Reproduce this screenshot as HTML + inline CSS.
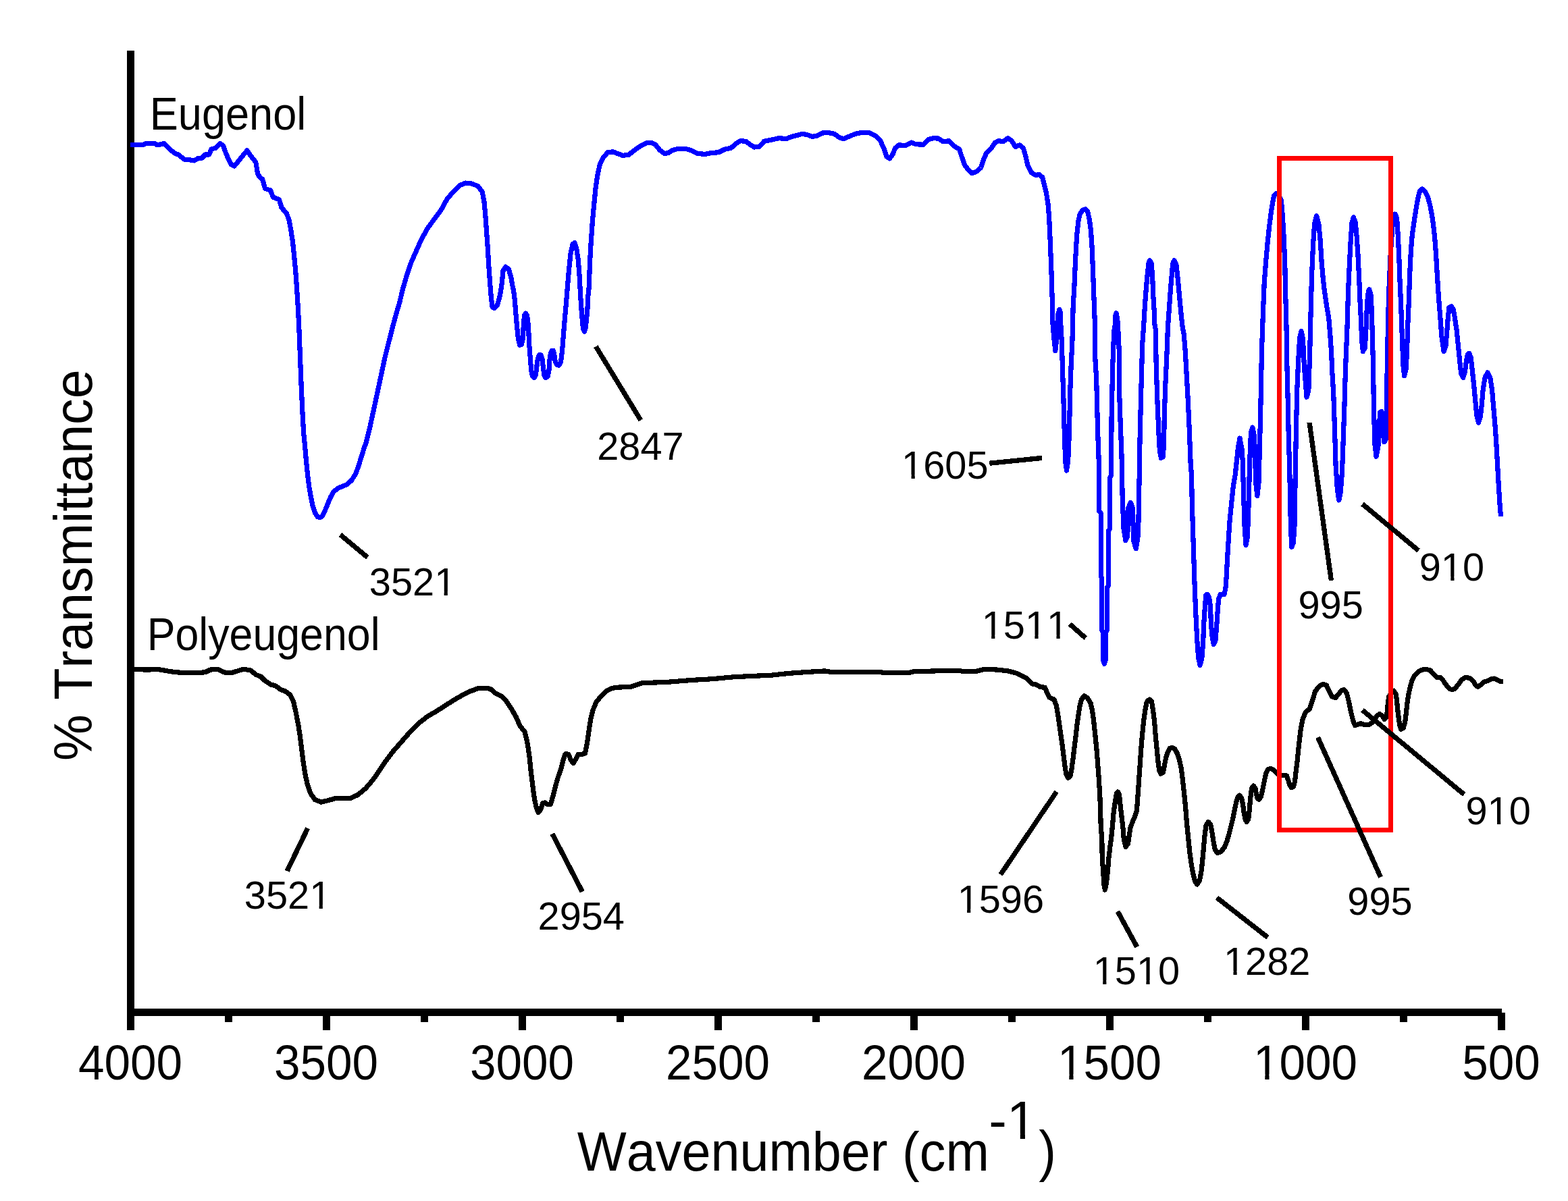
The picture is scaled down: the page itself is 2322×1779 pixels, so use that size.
<!DOCTYPE html>
<html lang="en">
<head>
<meta charset="utf-8">
<title>FTIR spectra of Eugenol and Polyeugenol</title>
<style>
html,body{margin:0;padding:0;background:#fff;}
body{width:2322px;height:1779px;overflow:hidden;}
svg{display:block;}
text{font-family:"Liberation Sans",Arial,Helvetica,sans-serif;fill:#000;font-kerning:none;font-variant-ligatures:none;}
</style>
</head>
<body>
<svg width="2322" height="1779" viewBox="0 0 2322 1779">
<defs><clipPath id="k0" clipPathUnits="userSpaceOnUse"><path clip-rule="evenodd" d="M-146.3,-83.1H146.3V34.6H-146.3ZM-73.59,-6.93H-59.70V1.39H-73.59ZM-53.47,-6.93H-40.34V1.39H-53.47Z"/></clipPath><clipPath id="k1" clipPathUnits="userSpaceOnUse"><path clip-rule="evenodd" d="M-146.3,-83.1H146.3V34.6H-146.3ZM-73.59,-6.93H-59.70V1.39H-73.59ZM-53.47,-6.93H-40.34V1.39H-53.47Z"/></clipPath><clipPath id="k2" clipPathUnits="userSpaceOnUse"><path clip-rule="evenodd" d="M-57.7,-69.3H186.1V28.9H-57.7ZM99.19,-5.77H110.77V1.15H99.19ZM115.96,-5.77H126.90V1.15H115.96Z"/></clipPath><clipPath id="k3" clipPathUnits="userSpaceOnUse"><path clip-rule="evenodd" d="M-57.7,-69.3H186.1V28.9H-57.7ZM2.89,-5.77H14.46V1.15H2.89ZM19.65,-5.77H30.59V1.15H19.65Z"/></clipPath><clipPath id="k4" clipPathUnits="userSpaceOnUse"><path clip-rule="evenodd" d="M-57.7,-69.3H186.1V28.9H-57.7ZM2.89,-5.77H14.46V1.15H2.89ZM19.65,-5.77H30.59V1.15H19.65ZM67.09,-5.77H78.66V1.15H67.09ZM83.86,-5.77H94.80V1.15H83.86ZM99.19,-5.77H110.77V1.15H99.19ZM115.96,-5.77H126.90V1.15H115.96Z"/></clipPath><clipPath id="k5" clipPathUnits="userSpaceOnUse"><path clip-rule="evenodd" d="M-57.7,-69.3H154.0V28.9H-57.7ZM34.99,-5.77H46.56V1.15H34.99ZM51.76,-5.77H62.69V1.15H51.76Z"/></clipPath><clipPath id="k6" clipPathUnits="userSpaceOnUse"><path clip-rule="evenodd" d="M-57.7,-69.3H186.1V28.9H-57.7ZM99.19,-5.77H110.77V1.15H99.19ZM115.96,-5.77H126.90V1.15H115.96Z"/></clipPath><clipPath id="k7" clipPathUnits="userSpaceOnUse"><path clip-rule="evenodd" d="M-57.7,-69.3H186.1V28.9H-57.7ZM2.89,-5.77H14.46V1.15H2.89ZM19.65,-5.77H30.59V1.15H19.65Z"/></clipPath><clipPath id="k8" clipPathUnits="userSpaceOnUse"><path clip-rule="evenodd" d="M-57.7,-69.3H186.1V28.9H-57.7ZM2.89,-5.77H14.46V1.15H2.89ZM19.65,-5.77H30.59V1.15H19.65ZM67.09,-5.77H78.66V1.15H67.09ZM83.86,-5.77H94.80V1.15H83.86Z"/></clipPath><clipPath id="k9" clipPathUnits="userSpaceOnUse"><path clip-rule="evenodd" d="M-57.7,-69.3H186.1V28.9H-57.7ZM2.89,-5.77H14.46V1.15H2.89ZM19.65,-5.77H30.59V1.15H19.65Z"/></clipPath><clipPath id="k10" clipPathUnits="userSpaceOnUse"><path clip-rule="evenodd" d="M-57.7,-69.3H154.0V28.9H-57.7ZM34.99,-5.77H46.56V1.15H34.99ZM51.76,-5.77H62.69V1.15H51.76Z"/></clipPath><clipPath id="k11" clipPathUnits="userSpaceOnUse"><path clip-rule="evenodd" d="M-79.8,-95.8H150.8V39.9H-79.8ZM30.57,-7.98H46.58V1.60H30.57ZM53.76,-7.98H68.89V1.60H53.76Z"/></clipPath></defs>
<rect x="0" y="0" width="2322" height="1779" fill="#fff"/>
<g stroke="#000" stroke-width="11" fill="none" shape-rendering="crispEdges">
<line x1="193.5" y1="75" x2="193.5" y2="1505"/>
<line x1="188" y1="1499.5" x2="2223.5" y2="1499.5"/>
<line x1="193.5" y1="1499.5" x2="193.5" y2="1526" />
<line x1="338.5" y1="1499.5" x2="338.5" y2="1514" />
<line x1="483.5" y1="1499.5" x2="483.5" y2="1526" />
<line x1="628.5" y1="1499.5" x2="628.5" y2="1514" />
<line x1="773.5" y1="1499.5" x2="773.5" y2="1526" />
<line x1="918.5" y1="1499.5" x2="918.5" y2="1514" />
<line x1="1063.5" y1="1499.5" x2="1063.5" y2="1526" />
<line x1="1208.5" y1="1499.5" x2="1208.5" y2="1514" />
<line x1="1353.5" y1="1499.5" x2="1353.5" y2="1526" />
<line x1="1498.5" y1="1499.5" x2="1498.5" y2="1514" />
<line x1="1643.5" y1="1499.5" x2="1643.5" y2="1526" />
<line x1="1788.5" y1="1499.5" x2="1788.5" y2="1514" />
<line x1="1933.5" y1="1499.5" x2="1933.5" y2="1526" />
<line x1="2078.5" y1="1499.5" x2="2078.5" y2="1514" />
<line x1="2223.5" y1="1499.5" x2="2223.5" y2="1526" />
</g>
<g fill="none" stroke-linejoin="round" stroke-linecap="butt" shape-rendering="crispEdges">
<polyline stroke="#0000ff" stroke-width="7.2" points="193.1,214.7 212.8,214.1 216.5,212.5 229.2,212.5 232.0,214.3 236.5,214.1 243.0,212.5 251.0,220.5 258.4,227.0 264.0,229.0 273.0,236.2 282.0,237.0 287.6,238.0 293.0,234.7 298.6,234.4 304.0,229.0 309.5,229.0 313.0,221.0 319.5,219.2 326.0,212.5 330.5,215.6 335.0,228.3 342.3,243.8 347.0,246.0 353.3,238.4 360.6,229.2 366.0,222.9 371.5,231.0 378.8,240.2 381.5,256.6 384.3,262.0 388.8,265.7 392.5,279.4 400.7,282.0 404.3,292.0 413.5,295.8 417.0,307.7 424.4,315.9 428.0,326.0 430.8,340.5 433.5,358.7 435.4,377.0 437.5,398.9 439.4,424.4 441.2,453.6 442.6,480.0 444.3,524.0 446.0,567.7 447.8,607.8 449.6,640.6 451.5,660.0 453.4,681.9 455.6,703.8 457.8,721.3 460.5,736.6 463.2,749.7 466.5,759.6 470.3,765.6 473.6,766.7 477.5,764.5 481.3,756.3 485.7,745.4 490.0,735.5 494.4,727.9 501.0,722.9 507.6,720.2 514.1,717.5 520.7,711.4 526.2,702.7 530.5,691.7 534.9,677.5 539.3,663.3 542.3,655.2 547.7,633.3 553.2,607.8 558.7,582.3 564.2,556.7 569.6,531.2 575.1,509.3 580.6,487.4 586.0,467.4 591.5,449.0 596.5,428.0 602.9,406.1 609.2,387.9 616.5,371.5 623.8,355.0 633.0,338.6 642.1,325.9 653.0,311.3 662.1,294.8 671.3,283.9 680.4,274.8 689.5,271.1 698.6,272.0 707.7,275.7 714.1,283.9 716.9,298.5 718.7,316.7 720.5,342.3 722.3,367.8 723.8,393.3 725.6,418.9 727.4,440.8 729.1,454.7 731.9,456.5 736.4,451.9 739.6,441.0 741.9,429.1 743.3,418.9 745.1,400.6 748.8,395.2 753.3,398.8 757.0,411.6 758.3,420.0 760.6,430.9 762.4,445.5 763.8,463.8 765.6,483.8 767.4,502.1 769.7,511.2 772.4,510.3 774.3,502.1 775.2,483.8 776.5,467.4 778.4,464.2 780.6,467.4 782.0,479.3 782.9,493.0 783.8,511.2 785.2,529.4 786.6,547.7 788.4,556.8 791.1,559.5 793.4,555.0 794.8,543.1 796.2,532.2 798.4,525.8 801.2,525.8 803.0,532.2 804.4,544.0 805.7,555.0 808.0,559.5 811.2,557.7 813.0,547.7 813.9,534.0 815.3,524.0 817.1,519.4 819.4,519.4 820.8,524.9 822.1,534.9 824.4,540.4 827.6,541.3 830.4,536.7 831.7,527.6 833.1,513.0 834.5,494.8 836.3,472.9 838.6,447.4 840.4,424.6 842.5,400.0 845.0,376.0 848.2,361.4 850.9,359.6 853.7,367.8 856.4,386.0 858.2,409.8 859.5,435.5 860.9,456.5 862.3,474.7 863.6,487.5 865.5,491.1 867.3,485.7 868.7,471.1 870.0,456.5 870.9,438.2 872.3,424.6 873.4,391.5 875.2,358.7 877.4,327.7 879.6,304.0 881.9,280.3 884.7,260.2 888.3,243.8 893.8,232.8 900.0,225.7 907.4,224.8 914.7,227.5 922.0,230.3 931.0,229.3 940.2,222.0 949.3,215.7 956.6,212.0 963.9,211.1 971.2,214.8 976.7,222.0 984.0,227.5 989.4,226.6 994.9,223.0 1002.2,220.8 1016.8,220.8 1024.1,223.0 1033.2,227.5 1044.2,228.4 1053.3,226.6 1064.2,225.7 1073.3,221.1 1082.5,219.3 1089.8,212.9 1096.1,208.7 1104.4,209.3 1111.6,214.8 1117.1,218.0 1124.4,217.5 1131.7,209.3 1140.8,207.5 1153.6,204.7 1164.5,205.6 1171.8,202.5 1181.0,200.2 1188.3,198.3 1195.5,199.6 1202.8,202.5 1210.1,201.1 1217.4,197.1 1226.6,196.5 1235.7,198.3 1243.0,203.8 1249.4,205.6 1257.6,202.0 1266.7,198.3 1275.8,196.5 1287.4,196.5 1296.5,201.1 1303.8,208.4 1309.3,221.1 1313.0,232.1 1317.5,234.8 1322.1,228.4 1325.7,219.3 1331.2,214.8 1340.3,215.7 1349.4,211.1 1356.7,213.8 1367.7,214.2 1375.0,206.5 1382.3,204.7 1389.6,205.1 1396.9,209.8 1405.1,208.7 1413.3,216.6 1420.6,221.1 1424.2,232.1 1428.8,244.8 1434.3,252.1 1439.7,256.7 1446.1,254.0 1452.5,248.5 1456.1,237.6 1460.7,226.6 1468.0,219.3 1473.5,211.1 1479.0,208.7 1485.3,209.8 1492.6,204.7 1498.1,208.4 1503.6,217.5 1510.0,214.8 1515.4,219.3 1519.1,232.1 1521.8,244.8 1527.3,255.8 1533.7,259.4 1539.1,258.5 1543.7,262.7 1546.4,273.7 1549.2,284.6 1551.9,301.0 1553.5,320.2 1554.6,342.1 1555.7,369.4 1556.8,396.8 1557.6,424.2 1558.5,451.5 1559.0,480.0 1560.8,500.5 1562.8,519.7 1564.9,500.5 1565.8,485.0 1566.9,465.2 1569.0,458.4 1570.8,465.2 1570.8,480.0 1572.4,507.4 1573.5,548.4 1574.9,589.4 1575.8,623.6 1576.8,657.8 1577.9,685.2 1579.5,697.0 1581.7,682.4 1583.4,641.4 1584.7,581.2 1586.4,534.7 1587.7,511.5 1588.5,485.0 1589.1,455.6 1590.9,424.2 1592.7,383.1 1594.6,348.9 1596.8,328.4 1599.1,317.5 1603.2,311.3 1607.3,309.9 1610.7,313.4 1613.4,325.7 1615.5,342.1 1617.3,369.4 1618.6,403.6 1619.6,431.0 1620.6,458.4 1621.4,480.0 1621.9,532.0 1623.7,562.1 1624.7,603.1 1625.8,644.1 1626.8,671.5 1627.5,690.0 1627.7,757.0 1630.1,760.0 1630.1,853.0 1631.5,856.0 1631.5,933.0 1633.5,937.0 1633.5,977.0 1635.4,983.5 1637.5,977.0 1637.5,937.0 1639.6,933.0 1639.6,870.0 1641.6,867.0 1641.6,786.0 1643.8,783.0 1643.8,707.0 1645.7,704.0 1645.7,690.0 1646.0,622.3 1647.6,545.7 1649.7,490.9 1651.5,480.0 1651.8,467.9 1653.1,463.8 1654.8,473.4 1655.6,485.0 1657.2,518.3 1657.9,589.4 1659.3,630.5 1661.0,674.2 1661.6,705.0 1662.2,738.8 1664.1,783.8 1666.9,800.6 1669.7,795.0 1671.0,751.9 1674.4,744.4 1677.0,751.9 1679.1,802.5 1682.3,812.8 1685.6,791.3 1686.6,735.0 1687.5,690.0 1688.0,652.3 1690.0,571.6 1691.7,510.1 1693.5,485.0 1695.5,451.5 1697.6,424.2 1699.6,402.3 1701.0,390.0 1702.6,385.9 1705.1,390.0 1706.7,410.5 1707.8,437.8 1709.5,465.2 1709.9,480.0 1711.3,488.2 1712.2,541.6 1714.0,596.3 1715.8,638.7 1717.4,668.8 1719.5,678.4 1722.2,677.0 1723.6,657.8 1724.2,616.8 1725.9,568.9 1728.1,521.0 1729.4,485.0 1731.8,451.5 1733.8,424.2 1735.9,399.5 1737.2,388.6 1739.0,385.9 1741.8,391.3 1743.7,407.7 1745.5,426.9 1747.5,448.8 1749.6,470.7 1751.3,485.0 1753.2,495.0 1755.4,522.4 1757.1,553.9 1759.1,589.4 1761.2,634.6 1763.2,688.0 1764.6,705.0 1765.3,746.3 1767.2,806.3 1769.1,866.3 1770.9,911.3 1772.8,948.8 1774.7,975.0 1777.1,985.3 1779.8,975.0 1781.6,952.5 1782.8,922.5 1784.6,896.3 1785.9,881.3 1787.8,880.3 1790.6,885.0 1792.5,898.1 1793.4,924.4 1795.3,945.0 1797.2,954.4 1800.0,948.8 1801.9,924.4 1803.4,901.9 1804.7,886.9 1807.5,880.3 1813.1,880.3 1815.4,868.1 1816.9,840.0 1818.8,806.3 1821.0,772.5 1823.4,748.1 1826.3,720.0 1829.1,704.0 1831.5,681.9 1833.4,663.1 1836.0,649.1 1839.0,665.0 1840.3,683.8 1841.6,732.5 1843.1,779.4 1845.0,807.5 1847.3,796.3 1849.1,747.5 1850.6,685.6 1852.5,640.6 1854.8,633.1 1857.2,644.4 1858.5,668.8 1859.6,713.8 1861.9,734.4 1864.1,713.8 1865.6,653.8 1866.6,616.3 1867.5,571.3 1868.4,522.5 1870.3,466.3 1872.2,419.4 1874.6,387.5 1877.3,357.5 1879.7,335.0 1882.1,316.3 1884.4,301.3 1886.6,290.0 1889.5,286.8 1893.0,288.0 1897.5,297.5 1899.4,321.9 1901.3,353.8 1902.8,391.3 1903.5,428.8 1904.6,466.3 1905.4,503.8 1905.9,541.3 1907.3,597.5 1908.4,653.8 1909.7,691.3 1910.6,743.8 1911.6,785.0 1912.9,810.3 1915.3,803.8 1917.2,775.6 1918.1,710.0 1919.6,627.5 1920.9,575.0 1922.8,531.9 1924.7,500.0 1927.1,490.6 1929.4,501.9 1931.3,541.3 1933.1,563.8 1935.0,588.1 1937.8,578.8 1939.7,522.5 1941.0,466.3 1942.5,410.0 1944.4,365.0 1946.6,331.3 1949.6,319.6 1952.8,331.3 1955.3,357.5 1957.1,387.5 1959.4,413.8 1961.6,432.5 1964.6,453.1 1967.8,471.9 1969.7,494.4 1971.6,522.5 1972.9,552.5 1974.8,584.4 1976.6,638.8 1978.1,689.4 1980.4,725.0 1982.8,741.0 1985.3,728.8 1987.5,698.8 1989.0,657.5 1990.9,603.1 1991.6,575.0 1993.1,531.9 1995.0,485.0 1996.5,432.5 1998.4,391.3 2000.3,353.8 2002.1,329.4 2004.4,321.9 2007.2,329.4 2009.1,350.0 2010.9,376.3 2012.8,415.6 2014.1,447.5 2015.6,475.6 2016.6,503.8 2018.4,520.6 2021.3,515.0 2023.1,485.0 2024.6,447.5 2026.5,430.6 2027.8,428.8 2030.3,438.1 2031.6,470.0 2032.5,503.8 2033.4,535.6 2034.4,603.1 2035.9,657.5 2038.1,676.3 2040.9,661.3 2042.3,631.3 2043.8,610.6 2046.0,609.7 2047.5,635.0 2049.8,654.7 2052.8,650.0 2053.5,591.9 2054.6,522.5 2056.5,438.1 2059.0,380.0 2062.0,335.0 2066.1,317.1 2068.6,323.3 2070.3,349.4 2071.9,383.8 2073.0,415.4 2074.4,445.6 2075.5,474.5 2076.6,508.1 2078.1,542.4 2079.6,556.7 2082.3,546.2 2083.8,511.9 2084.8,480.0 2085.7,462.1 2086.8,431.9 2088.1,397.5 2089.5,370.0 2091.2,349.4 2093.6,331.5 2096.1,315.0 2098.4,301.3 2100.5,290.3 2102.6,282.7 2106.0,279.9 2110.1,283.4 2114.3,291.6 2117.7,304.0 2120.4,317.8 2122.5,332.9 2124.6,350.8 2126.4,374.1 2128.0,401.6 2129.7,429.1 2131.4,452.5 2133.2,474.5 2134.9,498.6 2138.1,520.5 2141.0,511.9 2142.9,489.0 2144.4,470.0 2145.9,455.3 2149.3,453.9 2152.1,458.0 2154.3,470.0 2157.1,489.0 2159.6,513.8 2161.9,536.7 2163.8,553.8 2166.7,559.5 2169.5,550.0 2171.4,534.8 2173.3,525.2 2175.6,523.3 2178.1,529.0 2180.0,546.2 2182.5,569.0 2184.8,593.8 2186.7,614.8 2189.5,626.2 2192.4,616.7 2194.3,599.5 2196.2,576.7 2199.0,559.5 2202.9,551.9 2206.7,559.5 2209.5,576.7 2211.4,599.5 2213.7,626.2 2215.6,652.9 2217.1,679.5 2219.0,713.8 2221.0,746.2 2222.5,765.2"/>
<polyline stroke="#000" stroke-width="7.2" points="193.5,991.2 216.5,992.1 234.7,991.6 253.0,994.8 271.2,996.7 289.4,996.7 304.0,995.8 311.3,992.1 322.3,991.2 333.2,996.3 344.2,996.3 353.3,993.4 360.6,991.2 371.5,993.0 378.8,999.4 386.1,1002.1 391.6,1007.6 400.7,1014.0 408.0,1015.8 415.3,1021.3 422.6,1024.0 429.9,1029.5 434.4,1038.6 438.1,1055.0 441.7,1073.3 444.5,1091.5 446.7,1109.8 449.0,1128.0 451.8,1146.2 455.4,1162.7 460.0,1175.4 466.4,1184.5 475.5,1188.2 486.4,1185.5 497.4,1182.4 508.3,1182.7 519.3,1182.4 530.2,1177.2 541.2,1168.1 552.1,1155.4 560.0,1144.2 570.9,1127.8 581.9,1113.2 594.7,1098.6 607.4,1084.0 620.2,1071.3 633.0,1061.2 645.7,1053.9 658.5,1045.7 671.3,1037.5 684.0,1030.2 696.8,1023.8 707.7,1019.8 716.9,1019.3 726.0,1020.2 733.3,1026.6 742.4,1031.1 749.7,1038.4 757.0,1049.4 764.3,1062.1 769.8,1074.9 777.1,1084.0 780.7,1098.6 784.0,1120.5 786.2,1142.4 788.9,1164.3 791.3,1182.5 794.4,1197.1 797.1,1203.5 800.8,1198.9 803.5,1189.8 807.2,1188.9 810.8,1191.6 815.4,1191.3 819.0,1178.9 822.7,1164.3 826.3,1151.5 830.9,1138.7 834.5,1124.2 837.2,1116.9 841.8,1117.2 845.5,1126.0 849.1,1130.5 852.8,1124.2 856.4,1117.2 861.0,1117.8 866.4,1116.0 869.2,1102.3 871.9,1084.0 874.6,1065.8 878.3,1051.2 882.8,1040.3 890.1,1031.1 897.4,1023.8 906.6,1019.3 917.5,1018.0 933.9,1017.5 944.9,1013.8 951.0,1011.7 989.2,1010.3 1022.1,1007.6 1054.9,1005.7 1085.0,1002.9 1109.6,1001.6 1142.5,1000.2 1167.1,997.5 1194.4,995.5 1221.8,993.9 1230.0,995.3 1303.9,995.3 1309.4,996.9 1347.7,996.1 1353.1,994.7 1386.0,993.9 1421.5,993.6 1427.0,994.7 1446.2,994.2 1457.1,991.4 1476.3,992.0 1492.7,993.9 1506.4,997.5 1520.0,1004.3 1528.2,1012.8 1535.0,1014.2 1540.5,1017.6 1547.4,1018.3 1550.8,1026.5 1554.2,1033.3 1561.0,1036.1 1564.5,1045.7 1567.2,1062.1 1569.9,1081.2 1572.7,1100.4 1574.7,1116.8 1576.8,1133.2 1578.8,1146.9 1581.6,1152.4 1585.0,1149.6 1587.0,1138.7 1589.1,1123.6 1591.1,1105.8 1593.2,1089.4 1595.0,1073.0 1596.9,1059.3 1599.1,1045.7 1601.4,1036.1 1605.5,1030.6 1610.3,1034.0 1615.1,1041.6 1617.8,1053.9 1619.9,1070.3 1621.9,1089.4 1624.0,1110.0 1625.6,1130.5 1627.4,1155.1 1628.8,1178.4 1629.6,1200.0 1630.1,1219.6 1631.9,1247.0 1632.2,1271.6 1633.8,1290.8 1634.6,1308.5 1636.3,1318.1 1638.3,1308.5 1640.4,1290.8 1641.8,1271.6 1643.8,1255.2 1645.6,1241.5 1647.5,1222.4 1649.3,1201.8 1651.3,1187.9 1653.4,1175.6 1655.2,1172.9 1657.5,1177.0 1658.9,1190.7 1660.6,1205.9 1663.0,1226.5 1664.3,1242.9 1667.1,1254.5 1670.5,1249.7 1672.1,1238.8 1673.9,1226.5 1677.3,1216.9 1681.4,1207.3 1683.5,1200.0 1685.5,1171.5 1687.6,1141.4 1689.6,1111.3 1691.7,1086.7 1693.7,1067.6 1695.8,1052.5 1697.8,1041.6 1699.9,1037.5 1702.6,1036.1 1705.4,1038.8 1707.4,1051.1 1709.5,1067.6 1711.2,1089.4 1713.2,1110.0 1714.9,1127.7 1716.7,1141.4 1719.0,1146.2 1722.5,1144.2 1724.5,1133.2 1726.6,1122.3 1729.3,1114.1 1732.0,1108.6 1735.5,1107.2 1739.6,1109.3 1743.0,1115.4 1746.4,1125.0 1749.1,1137.3 1751.2,1153.7 1753.2,1171.5 1755.0,1189.3 1756.4,1205.0 1757.4,1218.3 1759.7,1241.5 1761.9,1263.4 1764.2,1279.8 1766.9,1294.9 1769.7,1305.8 1772.8,1309.9 1776.5,1304.4 1779.2,1289.4 1781.0,1271.6 1782.7,1252.5 1784.3,1234.7 1786.1,1222.4 1789.5,1217.5 1792.7,1221.0 1794.5,1230.3 1796.1,1240.4 1797.6,1250.4 1799.6,1259.4 1803.1,1263.4 1808.1,1261.4 1813.1,1255.4 1817.1,1245.4 1820.1,1235.3 1822.6,1225.3 1825.1,1215.3 1827.2,1205.2 1829.2,1195.2 1831.2,1186.2 1833.2,1180.2 1835.7,1178.2 1838.7,1182.2 1840.7,1192.2 1842.2,1204.2 1844.2,1214.3 1846.2,1217.3 1848.7,1213.3 1850.2,1200.2 1851.4,1186.2 1852.7,1173.1 1854.2,1166.1 1856.2,1164.1 1858.8,1167.1 1860.3,1175.1 1862.3,1183.2 1864.8,1184.2 1867.3,1180.2 1869.3,1172.1 1871.3,1162.1 1873.3,1152.1 1875.3,1144.0 1877.8,1139.5 1881.3,1138.5 1885.3,1140.0 1888.3,1143.0 1891.4,1146.1 1898.4,1148.6 1905.4,1149.1 1907.9,1156.1 1909.9,1163.1 1912.4,1166.6 1915.4,1165.1 1917.4,1158.1 1919.0,1144.2 1921.1,1127.7 1922.8,1110.0 1924.8,1092.2 1926.5,1078.5 1929.3,1064.8 1933.4,1055.2 1939.5,1049.8 1943.6,1037.5 1947.7,1023.8 1953.2,1016.9 1958.7,1013.5 1964.2,1014.9 1968.3,1023.8 1972.4,1032.0 1977.8,1033.4 1982.6,1027.9 1986.7,1022.4 1990.2,1021.7 1994.3,1026.5 1997.7,1040.2 2000.4,1053.9 2003.8,1067.6 2006.6,1074.4 2010.7,1073.0 2014.8,1071.7 2021.6,1073.7 2028.5,1073.0 2033.9,1068.9 2038.7,1060.7 2043.0,1057.6 2047.0,1060.3 2050.0,1065.3 2053.5,1062.3 2055.0,1045.3 2056.6,1032.2 2060.0,1026.0 2064.1,1023.2 2067.1,1028.2 2068.6,1038.3 2069.6,1050.3 2071.1,1062.3 2072.6,1073.4 2074.6,1080.4 2078.1,1078.4 2080.6,1070.4 2082.1,1058.3 2083.6,1044.3 2085.6,1030.2 2088.2,1018.2 2091.2,1007.2 2095.2,1000.1 2100.2,995.1 2106.2,992.1 2112.2,991.3 2118.2,993.1 2123.3,999.1 2127.3,1003.1 2133.3,1003.6 2137.3,1008.2 2141.3,1014.2 2146.3,1020.2 2150.4,1021.7 2154.4,1020.2 2159.4,1014.2 2164.4,1007.2 2168.4,1004.1 2173.4,1003.6 2178.4,1005.6 2182.5,1010.2 2185.5,1015.2 2188.5,1017.2 2192.5,1014.7 2197.5,1010.2 2202.5,1008.7 2208.5,1005.6 2212.6,1005.1 2217.6,1007.2 2221.6,1009.2 2225.6,1009.2"/>
</g>
<rect x="1894.5" y="234.6" width="165" height="994.9" fill="none" stroke="#ff0000" stroke-width="6.8" shape-rendering="crispEdges"/>
<g stroke="#000" stroke-width="7.3" fill="none" shape-rendering="crispEdges"><line x1="504.0" y1="792.0" x2="544.3" y2="825.7"/><line x1="882.4" y1="513.3" x2="948.8" y2="622.4"/><line x1="1465.3" y1="686.2" x2="1543.2" y2="678.4"/><line x1="1584.0" y1="924.3" x2="1607.7" y2="945.2"/><line x1="1939.1" y1="626.0" x2="1971.4" y2="859.8"/><line x1="2017.5" y1="746.6" x2="2100.6" y2="815.5"/><line x1="455.7" y1="1226.7" x2="425.1" y2="1290.3"/><line x1="817.8" y1="1235.0" x2="862.2" y2="1320.7"/><line x1="1564.6" y1="1172.7" x2="1481.8" y2="1295.4"/><line x1="1655.1" y1="1350.1" x2="1683.8" y2="1402.8"/><line x1="1802.0" y1="1329.7" x2="1877.4" y2="1388.6"/><line x1="1951.5" y1="1092.2" x2="2044.5" y2="1299.3"/><line x1="2017.5" y1="1051.8" x2="2168.2" y2="1176.8"/></g>
<g><text transform="translate(193.00,1598.57) scale(1.0000,1.0508)" font-size="69.27px" text-anchor="middle">4000</text><text transform="translate(483.00,1598.57) scale(1.0000,1.0508)" font-size="69.27px" text-anchor="middle">3500</text><text transform="translate(773.00,1598.57) scale(1.0000,1.0508)" font-size="69.27px" text-anchor="middle">3000</text><text transform="translate(1063.00,1598.57) scale(1.0000,1.0508)" font-size="69.27px" text-anchor="middle">2500</text><text transform="translate(1353.00,1598.57) scale(1.0000,1.0508)" font-size="69.27px" text-anchor="middle">2000</text><text transform="translate(1643.00,1598.57) scale(1.0000,1.0508)" font-size="69.27px" text-anchor="middle" clip-path="url(#k0)">1500</text><text transform="translate(1933.00,1598.57) scale(1.0000,1.0508)" font-size="69.27px" text-anchor="middle" clip-path="url(#k1)">1000</text><text transform="translate(2223.00,1598.57) scale(1.0000,1.0508)" font-size="69.27px" text-anchor="middle">500</text></g>
<g><text transform="translate(546.87,882.12) scale(1.0000,1.0087)" font-size="57.72px" clip-path="url(#k2)">3521</text><text transform="translate(884.21,681.02) scale(1.0000,1.0087)" font-size="57.72px">2847</text><text transform="translate(1335.12,708.82) scale(1.0000,1.0087)" font-size="57.72px" clip-path="url(#k3)">1605</text><text transform="translate(1453.71,946.32) scale(1.0000,1.0087)" font-size="57.72px" clip-path="url(#k4)">1511</text><text transform="translate(1922.46,916.22) scale(1.0000,1.0087)" font-size="57.72px">995</text><text transform="translate(2101.74,859.72) scale(1.0000,1.0087)" font-size="57.72px" clip-path="url(#k5)">910</text><text transform="translate(361.87,1346.32) scale(1.0000,1.0087)" font-size="57.72px" clip-path="url(#k6)">3521</text><text transform="translate(796.56,1377.02) scale(1.0000,1.0087)" font-size="57.72px">2954</text><text transform="translate(1417.64,1352.42) scale(1.0000,1.0087)" font-size="57.72px" clip-path="url(#k7)">1596</text><text transform="translate(1618.74,1458.02) scale(1.0000,1.0087)" font-size="57.72px" clip-path="url(#k8)">1510</text><text transform="translate(1812.01,1443.82) scale(1.0000,1.0087)" font-size="57.72px" clip-path="url(#k9)">1282</text><text transform="translate(1995.36,1354.92) scale(1.0000,1.0087)" font-size="57.72px">995</text><text transform="translate(2170.49,1221.32) scale(1.0000,1.0087)" font-size="57.72px" clip-path="url(#k10)">910</text></g>
<text transform="translate(221.74,192.00) scale(1.0000,1.0818)" font-size="63.11px">Eugenol</text>
<text transform="translate(217.63,963.40) scale(1.0000,1.1001)" font-size="62.67px">Polyeugenol</text>
<text transform="translate(854.71,1734.40) scale(1.0000,1.0438)" font-size="77.34px">Wavenumber (cm</text><text transform="translate(1464.21,1687.10) scale(1.0000,1.0058)" font-size="79.83px" clip-path="url(#k11)">-1</text><text transform="translate(1538.32,1733.87) scale(1.0000,1.0677)" font-size="77.34px">)</text>
<text transform="translate(136.10,1127.00) rotate(-90) scale(1,1.0371)" font-size="77.28px">% Transmittance</text>
</svg>
</body>
</html>
